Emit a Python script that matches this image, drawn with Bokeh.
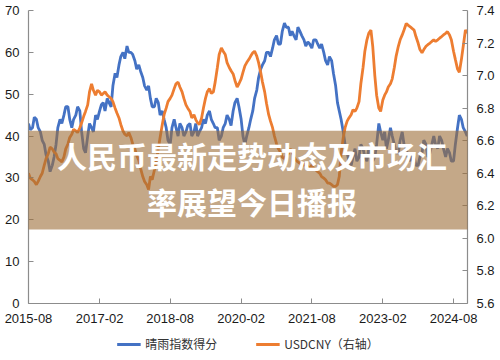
import pandas as pd
from bokeh.plotting import figure
from bokeh.layouts import column
from bokeh.models import (LinearAxis, Range1d, BoxAnnotation, Label, Legend, LegendItem,
                          FixedTicker, DatetimeTickFormatter, PrintfTickFormatter)
from bokeh.embed import file_html
from bokeh.resources import INLINE

# ---------------- data (twice a month, from 2015-08-01) ----------------
first_day = "2015-08-01"

index_score = [
    43, 41.5, 42, 44.5, 44, 42, 41, 39, 38, 35.5, 34, 31.5, 33, 35, 38, 42, 44, 43, 45, 47,
    47, 44, 42, 44, 45, 47, 46, 41, 37, 36, 40, 43, 42, 41, 45, 44, 46, 47.5, 48, 46,
    49, 48, 47, 52, 55, 54, 57, 59, 60, 58.5, 61.5, 60, 60, 59.5, 58, 56, 57, 55.5, 54, 52,
    51, 52, 49, 47, 47, 49, 48, 45, 46, 44, 42, 39, 38, 42, 44, 42, 40, 43, 42, 40,
    41, 42.5, 43, 40, 41, 43, 40, 41, 42, 44, 43, 45, 46, 44, 43, 42, 42, 39, 40, 42,
    43, 45, 44, 42.5, 46, 48, 49, 47, 44, 40, 38, 40, 42, 44, 46, 49, 51, 54, 56, 57,
    58, 60, 60, 59, 61, 63, 64, 62, 62, 65, 67, 66, 66, 64, 65, 64, 63, 66, 65, 64,
    63, 61.5, 62.5, 62, 61, 63, 63, 62, 61, 62, 60, 58, 57, 59, 58, 55, 52, 48, 46, 44,
    41, 38, 36, 34, 33, 35, 37, 34, 35, 38, 37, 35, 34, 37, 36, 34, 35, 38, 43, 41,
    39, 41, 37, 39, 42, 40, 38, 36, 36, 39, 41, 38, 37, 35, 34, 36, 35, 33, 33, 35,
    36, 39, 38, 35, 36, 38, 40, 38, 37, 40, 39, 37, 35, 37, 36, 34, 34, 38, 42, 45,
    44, 42, 41, 40,
]

usdcny = [
    6.40, 6.37, 6.36, 6.35, 6.33, 6.35, 6.38, 6.40, 6.45, 6.49,
    6.52, 6.56, 6.55, 6.53, 6.52, 6.49, 6.48, 6.47, 6.50, 6.55,
    6.58, 6.62, 6.64, 6.67, 6.66, 6.65, 6.68, 6.71, 6.75, 6.78,
    6.82, 6.90, 6.95, 6.91, 6.88, 6.91, 6.90, 6.88, 6.89, 6.90,
    6.88, 6.87, 6.86, 6.84, 6.80, 6.77, 6.74, 6.70, 6.66, 6.64,
    6.63, 6.65, 6.62, 6.58, 6.55, 6.51, 6.48, 6.43, 6.38, 6.35,
    6.33, 6.30, 6.38, 6.36, 6.42, 6.47, 6.55, 6.62, 6.70, 6.76,
    6.80, 6.84, 6.86, 6.88, 6.92, 6.95, 6.96, 6.93, 6.90, 6.86,
    6.82, 6.80, 6.78, 6.74, 6.76, 6.73, 6.71, 6.70, 6.74, 6.80,
    6.86, 6.90, 6.92, 6.89, 6.90, 6.96, 7.05, 7.13, 7.17, 7.15,
    7.13, 7.08, 7.05, 7.03, 7.01, 6.97, 6.93, 6.95, 6.98, 7.02,
    7.06, 7.08, 7.10, 7.12, 7.14, 7.15, 7.12, 7.08, 7.02, 6.96,
    6.90, 6.83, 6.76, 6.72, 6.68, 6.63, 6.58, 6.55, 6.53, 6.50,
    6.49, 6.51, 6.52, 6.55, 6.53, 6.50, 6.48, 6.47, 6.46, 6.45,
    6.45, 6.46, 6.44, 6.43, 6.45, 6.43, 6.42, 6.41, 6.40, 6.38,
    6.37, 6.36, 6.34, 6.34, 6.33, 6.32, 6.32, 6.33, 6.38, 6.52,
    6.62, 6.68, 6.72, 6.74, 6.76, 6.79, 6.78, 6.80, 6.84, 6.95,
    7.05, 7.15, 7.22, 7.26, 7.28, 7.18, 7.00, 6.88, 6.80, 6.78,
    6.85, 6.88, 6.90, 6.93, 6.95, 6.98, 7.05, 7.12, 7.18, 7.22,
    7.25, 7.28, 7.32, 7.31, 7.30, 7.29, 7.28, 7.24, 7.20, 7.16,
    7.14, 7.16, 7.18, 7.19, 7.20, 7.21, 7.22, 7.21, 7.22, 7.23,
    7.24, 7.25, 7.26, 7.27, 7.25, 7.22, 7.15, 7.10, 7.04, 7.02,
    7.10, 7.18, 7.28, 7.26,
]

x_tick_labels = ["2015-08", "2017-02", "2018-08", "2020-02", "2021-08", "2023-02", "2024-08"]
left_ticks = [0, 10, 20, 30, 40, 50, 60, 70]
right_ticks = [5.6, 5.8, 6.0, 6.2, 6.4, 6.6, 6.8, 7.0, 7.2, 7.4]

series_names = ["晴雨指数得分", "USDCNY（右轴）"]
series_colors = ["#4472C4", "#ED7D31"]
banner_lines = ["人民币最新走势动态及市场汇", "率展望今日播报"]

# ---------------- build ----------------
dates = pd.date_range(first_day, periods=len(index_score), freq="SMS")


def ms(ts):
    return pd.Timestamp(ts).value / 1e6


x_start = ms(first_day)
x_end = ms("2024-11-17")

p = figure(frame_width=439, frame_height=293, x_axis_type="datetime",
           x_range=Range1d(x_start, x_end), y_range=Range1d(0, 70),
           output_backend="svg", toolbar_location=None,
           min_border_left=28, min_border_right=33, min_border_top=10, min_border_bottom=0)
p.extra_y_ranges = {"fx": Range1d(5.6, 7.4)}

p.xgrid.visible = False
p.ygrid.visible = False
p.outline_line_color = None
p.background_fill_color = "white"
p.border_fill_color = "white"

p.line(dates, index_score, line_color=series_colors[0], line_width=2.8)
p.line(dates, usdcny, y_range_name="fx", line_color=series_colors[1], line_width=2.8)

right_axis = LinearAxis(y_range_name="fx")
p.add_layout(right_axis, "right")

p.xaxis.ticker = FixedTicker(ticks=[ms(t + "-01") for t in x_tick_labels])
p.xaxis.formatter = DatetimeTickFormatter(
    years="%Y-%m", months="%Y-%m", days="%Y-%m", hours="%Y-%m",
    minutes="%Y-%m", seconds="%Y-%m", milliseconds="%Y-%m", microseconds="%Y-%m")
p.yaxis[0].ticker = FixedTicker(ticks=left_ticks)
right_axis.ticker = FixedTicker(ticks=right_ticks)
right_axis.formatter = PrintfTickFormatter(format="%.1f")

for ax in [p.xaxis[0], p.yaxis[0], right_axis]:
    ax.axis_line_color = "#8c8c8c"
    ax.axis_line_width = 1.2
    ax.major_tick_line_color = "#8c8c8c"
    ax.major_tick_in = 5
    ax.major_tick_out = 0
    ax.minor_tick_line_color = None
    ax.major_label_text_font = "Liberation Sans"
    ax.major_label_text_font_size = "13px"
    ax.major_label_text_color = "#1a1a1a"
    ax.major_label_standoff = 9
p.xaxis[0].major_label_standoff = 10

# banner overlay
banner = BoxAnnotation(left=ms("2014-01-01"), right=ms("2026-06-01"), top=41.3, bottom=17.7,
                       fill_color=(157, 110, 57), fill_alpha=0.6, line_color=None)
p.add_layout(banner)

x_center = ms("2020-04-25")
for txt, yv in zip(banner_lines, [35.4, 24.6]):
    p.add_layout(Label(x=x_center, y=yv, text=txt, text_align="center", text_baseline="middle",
                       text_font="Noto Sans CJK SC", text_font_style="bold",
                       text_font_size="30px", text_color="white"))

# legend strip below the chart (swatch lines lie outside its visible range)
leg = figure(width=500, height=28, x_range=Range1d(0, 1), y_range=Range1d(0, 1),
             output_backend="svg", toolbar_location=None,
             x_axis_location=None, y_axis_location=None, min_border=0)
leg.grid.visible = False
leg.outline_line_color = None
leg.background_fill_color = "white"
leg.border_fill_color = "white"
leg_r = [leg.line(x=[-5, -4], y=[-5, -4], line_color=c, line_width=2.8) for c in series_colors]
legend = Legend(items=[LegendItem(label=n, renderers=[r]) for n, r in zip(series_names, leg_r)],
                orientation="horizontal", location="top_center",
                border_line_color=None, background_fill_alpha=0,
                label_text_font="Noto Sans CJK SC", label_text_font_size="12px",
                label_text_color="#333333", glyph_width=24, glyph_height=14,
                label_height=14, spacing=38, padding=0, margin=10, label_standoff=5)
leg.add_layout(legend)

layout = column(p, leg, spacing=0)
open("out.html", "w").write(file_html(layout, INLINE))
